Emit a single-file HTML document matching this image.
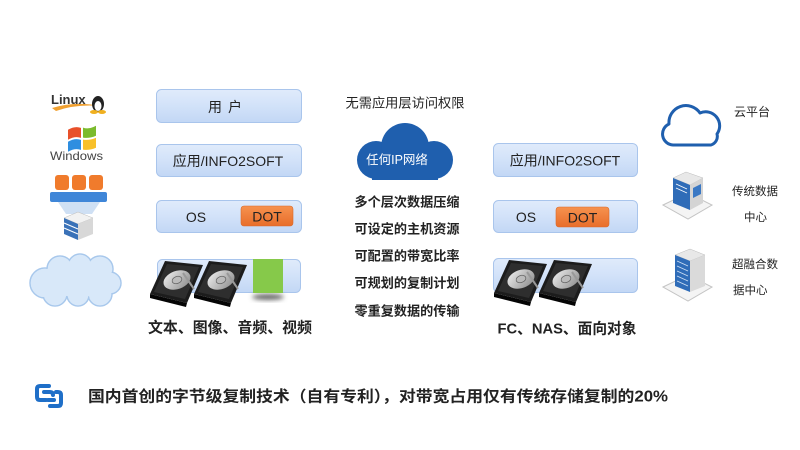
<!DOCTYPE html>
<html><head><meta charset="utf-8">
<style>
html,body{margin:0;padding:0;background:#fff;}
svg{display:block;}
text{font-family:"Liberation Sans","Noto Sans CJK SC",sans-serif;}
</style></head>
<body>
<svg width="800" height="450" viewBox="0 0 800 450" xmlns="http://www.w3.org/2000/svg">
<defs>
<linearGradient id="box" x1="0" y1="0" x2="0" y2="1">
<stop offset="0" stop-color="#e0ebfb"/><stop offset="0.5" stop-color="#d2e2f9"/><stop offset="1" stop-color="#c2d7f5"/>
</linearGradient>
<linearGradient id="dot" x1="0" y1="0" x2="0" y2="1">
<stop offset="0" stop-color="#f6924f"/><stop offset="1" stop-color="#e86d2a"/>
</linearGradient>
<linearGradient id="plat" x1="0" y1="0" x2="1" y2="1">
<stop offset="0" stop-color="#f0f0f0"/><stop offset="1" stop-color="#8a8a8a"/>
</linearGradient>
<filter id="blur" x="-50%" y="-50%" width="200%" height="200%"><feGaussianBlur stdDeviation="2.5"/></filter>
<g id="disk">
<polygon points="0,33 37,42 36,46 0,37" fill="#050505"/>
<polygon points="15,0 53,4 37,42 0,33" fill="#1c1c1c"/>
<polygon points="17,3 49,6 35,38 4,31" fill="#2e2e2e"/>
<ellipse cx="27" cy="19" rx="14" ry="9" transform="rotate(-20 27 19)" fill="url(#plat)"/>
<ellipse cx="27" cy="19" rx="5" ry="3.5" transform="rotate(-20 27 19)" fill="#bbb" stroke="#666" stroke-width="0.8"/>
<line x1="33" y1="12" x2="44" y2="28" stroke="#999" stroke-width="2"/>
</g>
</defs>

<!-- LEFT ICONS -->
<path d="M52,108 Q75,101 100,106 Q76,104 56,111 Z" fill="#f0a030"/>
<text x="51" y="104" font-family="Liberation Serif,serif" font-weight="bold" font-size="13" fill="#333">Linux</text>
<ellipse cx="98" cy="104" rx="6" ry="8" fill="#222"/>
<ellipse cx="98" cy="106" rx="3.5" ry="5" fill="#fff"/>
<ellipse cx="94" cy="112" rx="4" ry="2" fill="#f0b020"/>
<ellipse cx="102" cy="112" rx="4" ry="2" fill="#f0b020"/>
<g transform="translate(66,126) skewY(-8)">
<path d="M2,4 Q9,1 15,4 L15,14 Q9,11 2,14 Z" fill="#e8502a"/>
<path d="M17,4 Q23,7 30,4 L30,14 Q23,16 17,14 Z" fill="#7bbb2d"/>
<path d="M2,16 Q9,13 15,16 L15,26 Q9,23 2,26 Z" fill="#2e8ee0"/>
<path d="M17,16 Q23,18 30,16 L30,26 Q23,28 17,26 Z" fill="#f8c02a"/>
</g>
<text x="50" y="160" font-size="12" fill="#444" textLength="53" lengthAdjust="spacingAndGlyphs">Windows</text>
<rect x="50" y="192" width="57" height="10" rx="2" fill="#3f86d8"/>
<polygon points="58,202 100,202 92,214 66,214" fill="#cfe0f4"/>
<rect x="55" y="175" width="14" height="15" rx="3" fill="#f07b2c"/>
<rect x="72" y="175" width="14" height="15" rx="3" fill="#f07b2c"/>
<rect x="89" y="175" width="14" height="15" rx="3" fill="#f07b2c"/>
<polygon points="64,218 78,212 93,218 78,224" fill="#f2f2f2" stroke="#bbb" stroke-width="0.5"/>
<polygon points="64,218 78,224 78,240 64,234" fill="#3a72b8"/>
<polygon points="78,224 93,218 93,234 78,240" fill="#d8d8d8"/>
<line x1="64" y1="223" x2="78" y2="229" stroke="#fff" stroke-width="1"/>
<line x1="64" y1="228" x2="78" y2="234" stroke="#fff" stroke-width="1"/>
<g stroke="#a8c8ec" stroke-width="1.5" fill="#d8e8f9">
<circle cx="45" cy="283" r="15"/><circle cx="60" cy="269" r="13"/><circle cx="80" cy="266" r="12"/>
<circle cx="100" cy="269" r="13"/><circle cx="110" cy="283" r="11"/><circle cx="100" cy="294" r="12"/>
<circle cx="78" cy="295" r="11"/><circle cx="55" cy="294" r="12"/>
</g>
<g fill="#d8e8f9">
<circle cx="45" cy="283" r="14.2"/><circle cx="60" cy="269" r="12.2"/><circle cx="80" cy="266" r="11.2"/>
<circle cx="100" cy="269" r="12.2"/><circle cx="110" cy="283" r="10.2"/><circle cx="100" cy="294" r="11.2"/>
<circle cx="78" cy="295" r="10.2"/><circle cx="55" cy="294" r="11.2"/>
<ellipse cx="78" cy="282" rx="32" ry="15"/>
</g>

<!-- LEFT COLUMN BOXES -->
<rect x="156.5" y="89.5" width="145" height="33" rx="5" fill="url(#box)" stroke="#a9c5ec"/>
<text x="228" y="107" font-size="14" fill="#222" text-anchor="middle" dominant-baseline="central" letter-spacing="6">用户</text>
<rect x="156.5" y="144.5" width="145" height="32" rx="5" fill="url(#box)" stroke="#a9c5ec"/>
<text x="228" y="161" font-size="14" fill="#222" text-anchor="middle" dominant-baseline="central">应用/INFO2SOFT</text>
<rect x="156.5" y="200.5" width="145" height="32" rx="5" fill="url(#box)" stroke="#a9c5ec"/>
<text x="196" y="217" font-size="14" fill="#222" text-anchor="middle" dominant-baseline="central">OS</text>
<rect x="241" y="206" width="52" height="20" rx="3" fill="url(#dot)" stroke="#d9692a" stroke-width="0.6"/>
<text x="267" y="216.5" font-size="14" fill="#222" text-anchor="middle" dominant-baseline="central">DOT</text>
<rect x="157.5" y="259.5" width="143" height="33" rx="5" fill="url(#box)" stroke="#a9c5ec"/>
<ellipse cx="268" cy="297" rx="16" ry="3" fill="#666" filter="url(#blur)"/>
<rect x="253" y="259" width="30" height="34" fill="#86c94a"/>
<use href="#disk" x="150" y="261"/>
<use href="#disk" x="194" y="261"/>
<text x="230" y="328" font-size="15" font-weight="bold" fill="#222" text-anchor="middle" dominant-baseline="central" textLength="164" lengthAdjust="spacingAndGlyphs">文本、图像、音频、视频</text>

<!-- CENTER -->
<text x="405" y="103" font-size="13" fill="#222" text-anchor="middle" dominant-baseline="central" textLength="119" lengthAdjust="spacingAndGlyphs">无需应用层访问权限</text>
<g fill="#1f5fae">
<circle cx="376" cy="160" r="19"/><circle cx="405" cy="147" r="24"/><circle cx="434" cy="160" r="19"/>
<rect x="372" y="150" width="66" height="30"/>
</g>
<text x="397" y="160" font-size="12.5" fill="#fff" text-anchor="middle" dominant-baseline="central">任何IP网络</text>
<g font-size="13" font-weight="bold" fill="#222" text-anchor="middle">
<text x="407" y="202" dominant-baseline="central" textLength="105" lengthAdjust="spacingAndGlyphs">多个层次数据压缩</text>
<text x="407" y="229" dominant-baseline="central" textLength="105" lengthAdjust="spacingAndGlyphs">可设定的主机资源</text>
<text x="407" y="256" dominant-baseline="central" textLength="105" lengthAdjust="spacingAndGlyphs">可配置的带宽比率</text>
<text x="407" y="283" dominant-baseline="central" textLength="105" lengthAdjust="spacingAndGlyphs">可规划的复制计划</text>
<text x="407" y="311" dominant-baseline="central" textLength="105" lengthAdjust="spacingAndGlyphs">零重复数据的传输</text>
</g>

<!-- RIGHT COLUMN BOXES -->
<rect x="493.5" y="143.5" width="144" height="33" rx="5" fill="url(#box)" stroke="#a9c5ec"/>
<text x="565" y="160.5" font-size="14" fill="#222" text-anchor="middle" dominant-baseline="central">应用/INFO2SOFT</text>
<rect x="493.5" y="200.5" width="144" height="32" rx="5" fill="url(#box)" stroke="#a9c5ec"/>
<text x="526" y="217" font-size="14" fill="#222" text-anchor="middle" dominant-baseline="central">OS</text>
<rect x="556" y="207" width="53" height="20" rx="3" fill="url(#dot)" stroke="#d9692a" stroke-width="0.6"/>
<text x="582.5" y="217.5" font-size="14" fill="#222" text-anchor="middle" dominant-baseline="central">DOT</text>
<rect x="493.5" y="258.5" width="144" height="34" rx="5" fill="url(#box)" stroke="#a9c5ec"/>
<use href="#disk" x="494" y="260"/>
<use href="#disk" x="539" y="260"/>
<text x="567" y="329" font-size="15" font-weight="bold" fill="#222" text-anchor="middle" dominant-baseline="central" textLength="139" lengthAdjust="spacingAndGlyphs">FC、NAS、面向对象</text>

<!-- FAR RIGHT -->
<path d="M673,145 A11,11 0 0 1 669,124 A17,17 0 0 1 700,113 A14,14 0 0 1 717,134 A9,9 0 0 1 711,145 Z" fill="none" stroke="#1f5fae" stroke-width="3" stroke-linejoin="round"/>
<text x="734" y="112" font-size="12" fill="#222" dominant-baseline="central">云平台</text>
<polygon points="663,205 688,193 712,205 688,219" fill="#f4f4f4" stroke="#c4c4c4" stroke-width="1"/>
<polygon points="673,178 686,172 703,178 690,185" fill="#e8e8e8" stroke="#bbb" stroke-width="0.5"/>
<polygon points="673,178 690,185 690,210 673,203" fill="#2f6cb8"/>
<polygon points="690,185 703,178 703,203 690,210" fill="#d4d4d4"/>
<polygon points="693,188 701,184 701,194 693,198" fill="#3a78c4"/>
<line x1="676" y1="184" x2="687" y2="189" stroke="#fff" stroke-width="0.8"/>
<line x1="676" y1="188" x2="687" y2="193" stroke="#fff" stroke-width="0.8"/>
<text x="732" y="192" font-size="11.5" fill="#222" dominant-baseline="central">传统数据</text>
<text x="744" y="218" font-size="11.5" fill="#222" dominant-baseline="central">中心</text>
<polygon points="663,287 688,275 712,287 688,301" fill="#f4f4f4" stroke="#c4c4c4" stroke-width="1"/>
<polygon points="675,255 690,249 705,255 690,261" fill="#e8e8e8" stroke="#bbb" stroke-width="0.5"/>
<polygon points="675,255 690,261 690,292 675,286" fill="#2f6cb8"/>
<polygon points="690,261 705,255 705,286 690,292" fill="#dadada"/>
<g stroke="#cfe0f4" stroke-width="0.8">
<line x1="677" y1="261" x2="688" y2="266"/><line x1="677" y1="266" x2="688" y2="271"/>
<line x1="677" y1="271" x2="688" y2="276"/><line x1="677" y1="276" x2="688" y2="281"/>
<line x1="677" y1="281" x2="688" y2="286"/>
</g>
<text x="732" y="265" font-size="11.5" fill="#222" dominant-baseline="central">超融合数</text>
<text x="733" y="291" font-size="11.5" fill="#222" dominant-baseline="central">据中心</text>

<!-- BOTTOM -->
<g fill="none" stroke="#1f6fc8" stroke-width="4" stroke-linecap="round">
<path d="M49,386 L40,386 Q37,386 37,389 L37,397 Q37,400 40,400 L46,400"/>
<path d="M44,392 L50,392 Q53,392 53,395"/>
<path d="M50,406 L58,406 Q61,406 61,403 L61,395 Q61,392 58,392 L56,392"/>
<path d="M54,400 L48,400"/>
</g>
<text x="88" y="397" font-size="15.5" font-weight="bold" fill="#222" dominant-baseline="central" textLength="580" lengthAdjust="spacingAndGlyphs">国内首创的字节级复制技术（自有专利），对带宽占用仅有传统存储复制的20%</text>
</svg>
</body></html>
